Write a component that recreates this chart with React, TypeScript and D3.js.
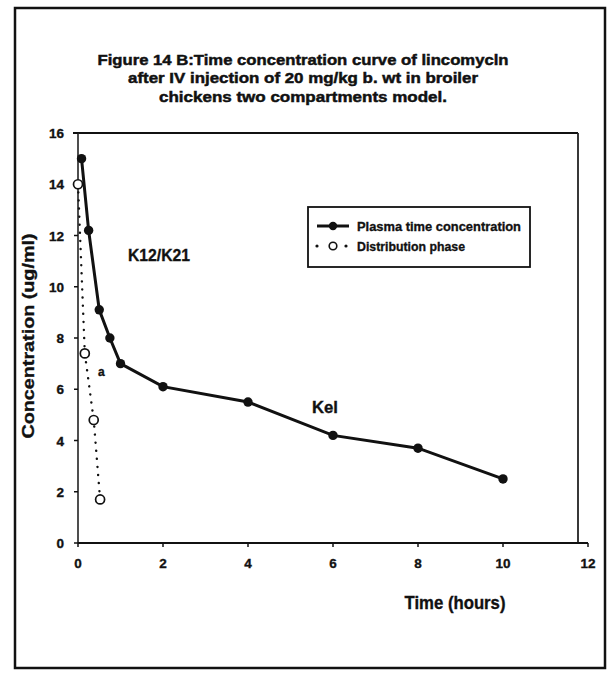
import * as d3 from "d3";

const titleLines = [
  "Figure 14 B:Time concentration curve of lincomycln",
  "after IV injection of 20 mg/kg b. wt in broiler",
  "chickens two compartments model.",
];
const titleWidths = [411, 350, 288];

const plasmaTime = [0.083, 0.25, 0.5, 0.75, 1, 2, 4, 6, 8, 10];
const plasmaConc = [15, 12.2, 9.1, 8.0, 7.0, 6.1, 5.5, 4.2, 3.7, 2.5];

const distTime = [0, 0.16, 0.37, 0.52];
const distConc = [14, 7.4, 4.8, 1.7];

const xTicks = [0, 2, 4, 6, 8, 10, 12];
const yTicks = [0, 2, 4, 6, 8, 10, 12, 14, 16];

const W = 611;
const H = 673;
const font = "'Liberation Sans Narrow', 'Liberation Sans', Arial, sans-serif";

export default function App() {
  const x = d3.scaleLinear().domain([0, 12]).range([78, 588]);
  const y = d3.scaleLinear().domain([0, 16]).range([543, 133]);

  const plasma = plasmaTime.map((t, i) => ({ t, c: plasmaConc[i] }));
  const dist = distTime.map((t, i) => ({ t, c: distConc[i] }));

  const line = d3
    .line<{ t: number; c: number }>()
    .x((d) => x(d.t))
    .y((d) => y(d.c));

  // heavy, slightly squeezed lettering like the scanned figure
  const heavy = { fontFamily: font, fontWeight: "bold" as const, fill: "#111", stroke: "#111", strokeWidth: 0.35 };

  return (
    <svg
      width={W}
      height={H}
      style={{ position: "absolute", left: 0, top: 0, background: "#fff" }}
    >
      {/* outer frame */}
      <rect x={15} y={8} width={590} height={660} fill="none" stroke="#111" strokeWidth={2.5} />

      {titleLines.map((t, i) => (
        <text
          key={i}
          x={303}
          y={65 + i * 18.3}
          textAnchor="middle"
          fontSize={15.5}
          textLength={titleWidths[i]}
          lengthAdjust="spacingAndGlyphs"
          {...heavy}
          strokeWidth={0.5}
        >
          {t}
        </text>
      ))}

      {/* plot border top / right */}
      <line x1={x(0) - 5} x2={578} y1={y(16)} y2={y(16)} stroke="#111" strokeWidth={2} />
      <line x1={578} x2={578} y1={y(16)} y2={y(0)} stroke="#222" strokeWidth={1.8} />

      {/* axes */}
      <line x1={x(0)} x2={x(0)} y1={y(16)} y2={y(0)} stroke="#222" strokeWidth={1.6} />
      <line x1={x(0)} x2={x(12)} y1={y(0)} y2={y(0)} stroke="#111" strokeWidth={2} />
      {yTicks.map((v) => (
        <g key={v}>
          <line x1={x(0) - 4} x2={x(0)} y1={y(v)} y2={y(v)} stroke="#111" strokeWidth={1.5} />
          <text x={64} y={y(v) + 5} textAnchor="end" fontSize={13.5} {...heavy}>
            {v}
          </text>
        </g>
      ))}
      {xTicks.map((v) => (
        <g key={v}>
          <line x1={x(v)} x2={x(v)} y1={y(0)} y2={y(0) + 4} stroke="#111" strokeWidth={1.5} />
          <text x={x(v)} y={568} textAnchor="middle" fontSize={13.5} {...heavy}>
            {v}
          </text>
        </g>
      ))}

      <text
        x={455}
        y={609}
        textAnchor="middle"
        fontSize={18}
        textLength={101}
        lengthAdjust="spacingAndGlyphs"
        {...heavy}
      >
        Time (hours)
      </text>
      <text
        transform={`translate(34,${336}) rotate(-90)`}
        textAnchor="middle"
        fontSize={16}
        textLength={205}
        lengthAdjust="spacingAndGlyphs"
        {...heavy}
        fontFamily="'Liberation Sans', Arial, sans-serif"
      >
        Concentration (ug/ml)
      </text>

      {/* distribution phase */}
      <path
        d={line(dist) || ""}
        fill="none"
        stroke="#111"
        strokeWidth={2.4}
        strokeDasharray="0.1 8"
        strokeLinecap="round"
      />
      {dist.map((d, i) => (
        <circle key={i} cx={x(d.t)} cy={y(d.c)} r={4.5} fill="#fff" stroke="#111" strokeWidth={1.7} />
      ))}

      {/* plasma curve */}
      <path d={line(plasma) || ""} fill="none" stroke="#111" strokeWidth={3} />
      {plasma.map((d, i) => (
        <circle key={i} cx={x(d.t)} cy={y(d.c)} r={4.7} fill="#111" />
      ))}

      {/* annotations */}
      <text x={128} y={261} fontSize={17} textLength={62} lengthAdjust="spacingAndGlyphs" {...heavy}>
        K12/K21
      </text>
      <text x={312} y={413} fontSize={17} textLength={26} lengthAdjust="spacingAndGlyphs" {...heavy}>
        Kel
      </text>
      <text x={98} y={376} fontSize={12} {...heavy}>
        a
      </text>

      {/* legend */}
      <rect x={308} y={207} width={222} height={60} fill="#fff" stroke="#111" strokeWidth={1.8} />
      <line x1={317} x2={349} y1={226} y2={226} stroke="#111" strokeWidth={3} />
      <circle cx={333} cy={226} r={4.2} fill="#111" />
      <text x={357} y={231} fontSize={13.5} textLength={164} lengthAdjust="spacingAndGlyphs" {...heavy}>
        Plasma  time concentration
      </text>
      <circle cx={317} cy={246} r={1.6} fill="#111" />
      <circle cx={333} cy={246} r={3.8} fill="#fff" stroke="#111" strokeWidth={1.6} />
      <circle cx={346} cy={246} r={1.6} fill="#111" />
      <text x={357} y={251} fontSize={13.5} textLength={108} lengthAdjust="spacingAndGlyphs" {...heavy}>
        Distribution phase
      </text>
    </svg>
  );
}
